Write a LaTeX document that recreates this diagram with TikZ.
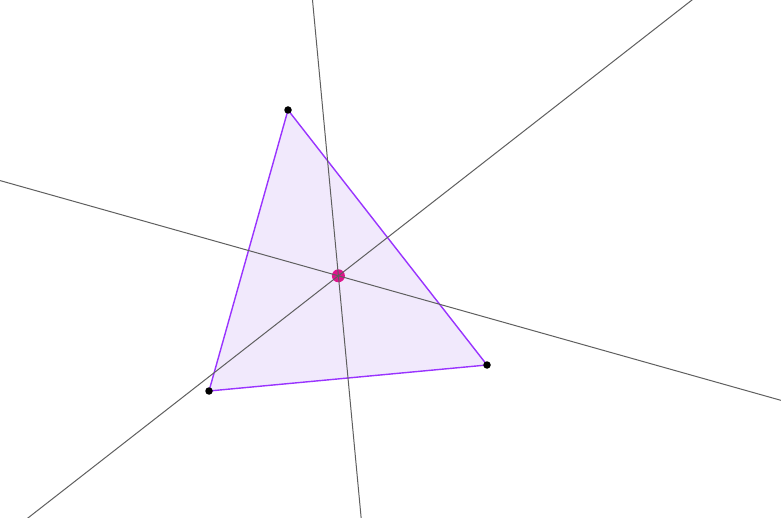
\documentclass[tikz,border=0pt]{standalone}
\usetikzlibrary{calc}
\definecolor{triedge}{RGB}{153,51,255}
\definecolor{trifill}{RGB}{241,233,252}
\definecolor{bisec}{RGB}{95,95,95}
\definecolor{centre}{RGB}{222,20,140}
\tikzset{
  bisector/.style={draw=bisec, line width=1pt},
  vertexdot/.style={circle, fill=black, inner sep=0pt, minimum size=7.5pt},
  centredot/.style={circle, fill=centre, inner sep=0pt, minimum size=13pt},
  triside/.style={draw=triedge, line width=1.4pt, fill=trifill, line join=round}
}
\begin{document}
\begin{tikzpicture}[x=1pt,y=-1pt]
\useasboundingbox (0,0) rectangle (781,518);
\fill[white] (0,0) rectangle (781,518);
\clip (0,0) rectangle (781,518);
\coordinate (A) at (288,110);
\coordinate (B) at (209,391);
\coordinate (C) at (487,365);
\coordinate (O) at (338.4,275.8);
\coordinate (Mab) at ($(A)!0.5!(B)$);
\coordinate (Mbc) at ($(B)!0.5!(C)$);
\coordinate (Mac) at ($(A)!0.5!(C)$);
\filldraw[triside] (A) -- (B) -- (C) -- cycle;
\node[centredot] (o) at (O) {};
\draw[bisector] ($(O)!-15!(Mbc)$) -- ($(O)!15!(Mbc)$);
\draw[bisector] ($(O)!-15!(Mab)$) -- ($(O)!15!(Mab)$);
\draw[bisector] ($(O)!-15!(Mac)$) -- ($(O)!15!(Mac)$);
\node[vertexdot] (a) at (A) {};
\node[vertexdot] (b) at (B) {};
\node[vertexdot] (c) at (C) {};
\end{tikzpicture}
\end{document}
